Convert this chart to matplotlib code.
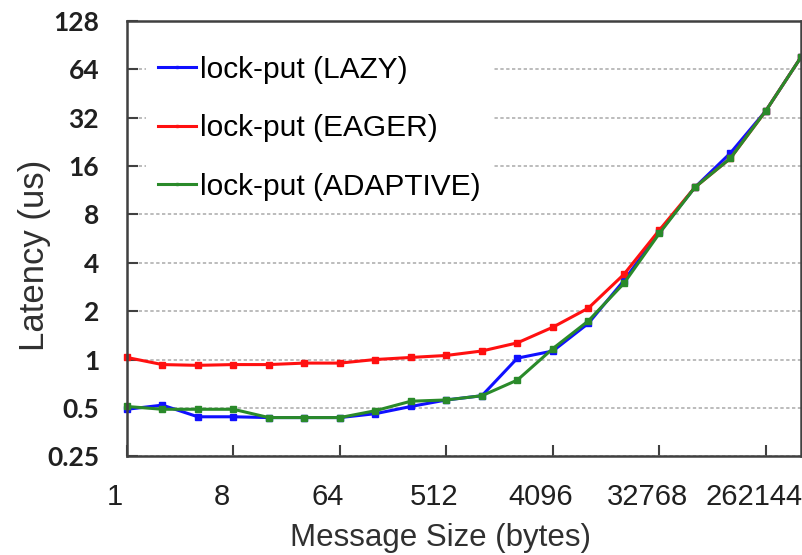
import numpy as np
import matplotlib
matplotlib.use("Agg")
import matplotlib.pyplot as plt
import matplotlib.transforms as mtransforms
from matplotlib.ticker import FixedLocator, FixedFormatter, NullLocator

# message sizes 1 .. 2^19 bytes
sizes = [2 ** k for k in range(20)]

lazy = [0.49, 0.52, 0.44, 0.44, 0.435, 0.435, 0.435, 0.46, 0.51, 0.56,
        0.595, 1.02, 1.13, 1.68, 3.10, 6.2, 11.8, 19.3, 35.4, 77]
eager = [1.03, 0.93, 0.92, 0.93, 0.93, 0.95, 0.95, 1.0, 1.03, 1.06,
         1.13, 1.27, 1.59, 2.09, 3.39, 6.4, 11.8, 17.9, 35.4, 77]
adaptive = [0.51, 0.49, 0.49, 0.49, 0.435, 0.435, 0.435, 0.48, 0.55, 0.56,
            0.595, 0.745, 1.17, 1.74, 2.98, 6.1, 11.8, 17.9, 35.4, 77]

labels = ['lock-put (LAZY)', 'lock-put (EAGER)', 'lock-put (ADAPTIVE)']
colors = ['#1010ff', '#ff1010', '#2a8a2a']

xticks = [1, 8, 64, 512, 4096, 32768, 262144]
yticks = [0.25, 0.5, 1, 2, 4, 8, 16, 32, 64, 128]
ytick_labels = ['0.25', '0.5', '1', '2', '4', '8', '16', '32', '64', '128']

fig = plt.figure(figsize=(8.03, 5.55), dpi=100)
ax = fig.add_axes([0.158, 0.178, 0.840, 0.784])

for series, lab, col in zip([lazy, eager, adaptive], labels, colors):
    ax.plot(sizes, series, color=col, lw=2.2, marker='s', ms=4,
            label=lab, clip_on=False)

ax.set_xscale('log', base=2)
ax.set_yscale('log', base=2)
ax.set_xlim(1, 524288)
ax.set_ylim(0.25, 128)

ax.xaxis.set_major_locator(FixedLocator(xticks))
ax.xaxis.set_major_formatter(FixedFormatter([str(t) for t in xticks]))
ax.xaxis.set_minor_locator(NullLocator())
ax.yaxis.set_major_locator(FixedLocator(yticks))
ax.yaxis.set_major_formatter(FixedFormatter(ytick_labels))
ax.yaxis.set_minor_locator(NullLocator())

ax.grid(axis='y', color='#b0b0b0', linestyle=(0, (2, 1.5)), lw=1.2)
ax.set_axisbelow(True)

for s in ax.spines.values():
    s.set_color('#404040')
    s.set_linewidth(1.8)

ax.tick_params(axis='both', direction='in', length=8, width=1.5,
               color='#404040')
ax.tick_params(axis='x', pad=19, labelsize=21, labelcolor='#202020')
ax.tick_params(axis='y', pad=20, labelsize=19, labelcolor='#202020')

# x tick labels sit a little left of their ticks in the original
shift = mtransforms.ScaledTranslation(-0.12, 0, fig.dpi_scale_trans)
for t in ax.get_xticklabels():
    t.set_fontfamily('Liberation Sans')
    t.set_transform(t.get_transform() + shift)
for t in ax.get_yticklabels():
    t.set_fontfamily('Lato')
    t.set_fontweight('bold')

ax.set_xlabel('Message Size (bytes)', fontsize=22.5, family='Liberation Sans',
              color='#303030')
ax.set_ylabel('Latency (us)', fontsize=25, family='Liberation Sans',
              color='#303030')
ax.xaxis.set_label_coords(0.465, -0.153)
ax.yaxis.set_label_coords(-0.112, 0.462)

leg = ax.legend(loc='upper left', bbox_to_anchor=(0.028, 0.948), frameon=True,
                fancybox=False, framealpha=1, edgecolor='none',
                prop={'family': 'Liberation Sans', 'size': 21.5},
                handlelength=1.27, handletextpad=0.13, labelspacing=1.02,
                markerscale=0.5, borderaxespad=0)

fig.savefig('out.png', dpi=100)
